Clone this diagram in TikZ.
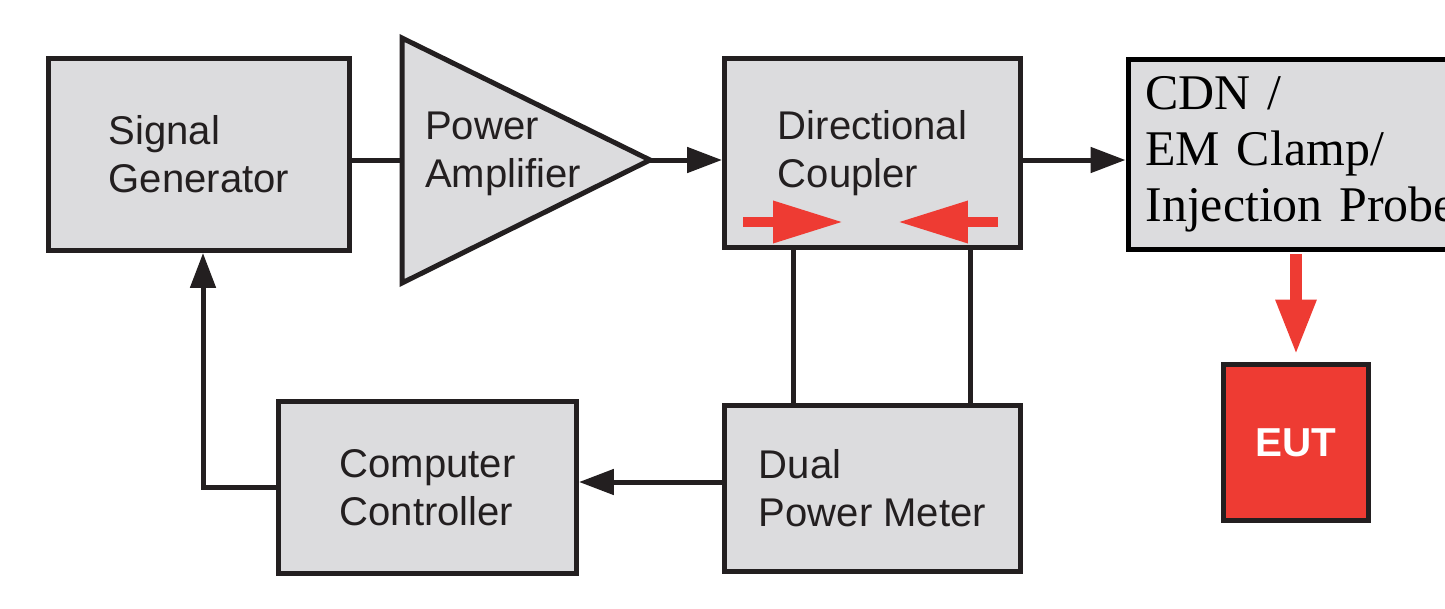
\documentclass[tikz,border=0pt]{standalone}
\usepackage{fontspec}
\setmainfont{Liberation Sans}
\newfontfamily\cdnfont{Liberation Serif}
\usetikzlibrary{arrows.meta,calc}
\definecolor{boxFill}{HTML}{DCDCDE}
\definecolor{boxInk}{HTML}{231F20}
\definecolor{eutRed}{HTML}{EE3B33}
\tikzset{
  block/.style={draw=boxInk, line width=0.1cm, fill=boxFill, text=boxInk, align=left,
    font=\fontsize{22.8}{27.3}\selectfont, inner sep=0pt},
  sigline/.style={draw=boxInk, line width=0.1cm},
  sigarrow/.style={sigline, -{Triangle[length=0.7cm, width=0.5cm]}},
  redarrow/.style={draw=eutRed, line width=0.2cm, -{Triangle[length=1.4cm, width=0.8cm]}},
}
\begin{document}
\begin{tikzpicture}[x=0.02cm, y=-0.02cm]
  \clip (0,0) rectangle (1445,609);
  \fill[white] (0,0) rectangle (1445,609);
  % top row
  \node[block, minimum width=6.02cm, minimum height=3.84cm] (sg) at (199,154.5) {Signal\\Generator};
  \coordinate (pain) at (402,160);
  \coordinate (paout) at (650,160);
  \draw[sigline, fill=boxFill] (402,38) -- (paout) -- (402,283) -- cycle;
  \node[text=boxInk, align=left, font=\fontsize{22.8}{27.3}\selectfont, inner sep=0pt] (pa) at (503,154) {Power\\Amplifier};
  \node[block, minimum width=5.92cm, minimum height=3.78cm] (dc) at (872.5,153) {Directional\\Coupler};
  \node[draw=black, line width=0.1cm, fill=boxFill, text=black, anchor=west, align=left,
    text width=6.5cm, inner xsep=0.35cm, minimum height=3.8cm,
    font=\cdnfont\fontsize{28.4}{31.9}\selectfont] (cdn) at (1125.5,154.5) {CDN /\\EM Clamp/\\Injection Probe};
  % bottom row
  \node[block, minimum width=5.96cm, minimum height=3.44cm] (cc) at (427.5,487.5) {Computer\\Controller};
  \node[block, minimum width=5.92cm, minimum height=3.32cm] (dpm) at (872.5,488.5) {Dual\\Power Meter};
  \node[draw=boxInk, line width=0.1cm, fill=eutRed, text=white, minimum width=2.9cm, minimum height=3.12cm,
    font=\fontsize{23}{27}\selectfont\bfseries] (eut) at (1296,442.5) {EUT};
  % connectors
  \draw[sigline] (sg.east |- pain) -- (pain);
  \draw[sigarrow] (paout) -- (paout -| dc.west);
  \draw[sigarrow] (dc.east |- paout) -- (paout -| cdn.west);
  \draw[sigline] ([xshift=1.43cm]dc.south west) -- ([xshift=1.43cm]dc.south west |- dpm.north);
  \draw[sigline] ([xshift=-1.05cm]dc.south east) -- ([xshift=-1.05cm]dc.south east |- dpm.north);
  \draw[sigarrow] ([yshift=0.13cm]dpm.west) coordinate (dpmout) -- (dpmout -| cc.east);
  \draw[sigarrow] (cc.west) -| ([xshift=0.08cm]sg.south);
  % coupler arrows
  \coordinate (fwdA) at (743,222);
  \coordinate (fwdB) at (843,222);
  \coordinate (revA) at (998,222);
  \coordinate (revB) at (898,222);
  \draw[redarrow] (fwdA) -- (fwdB);
  \draw[redarrow] (revA) -- (revB);
  \draw[redarrow, line width=0.24cm, -{Triangle[length=1.1cm, width=0.76cm]}]
    ([yshift=-0.05cm]cdn.south -| eut.north) -- ([yshift=0.15cm]eut.north);
\end{tikzpicture}
\end{document}
